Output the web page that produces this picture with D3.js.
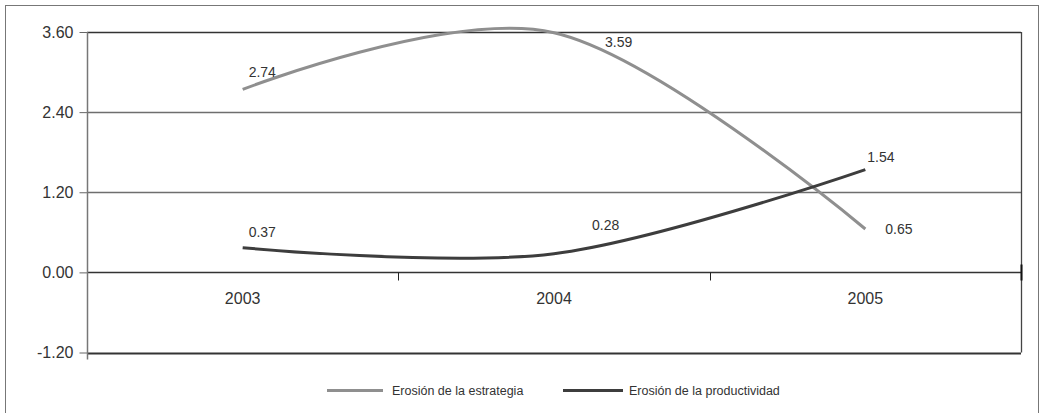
<!DOCTYPE html>
<html>
<head>
<meta charset="utf-8">
<script src="https://cdn.jsdelivr.net/npm/d3@7"></script>
<style>
  body { margin: 0; background: #fff; }
  svg { display: block; font-family: "Liberation Sans", Arial, sans-serif; }
</style>
</head>
<body>
<div id="root"></div>
<script>
const years = ["2003", "2004", "2005"];
const estrategia = [2.74, 3.59, 0.65];
const productividad = [0.37, 0.28, 1.54];
const yTicks = [3.6, 2.4, 1.2, 0, -1.2];
const seriesNames = ["Erosión de la estrategia", "Erosión de la productividad"];

const width = 1040;
const height = 413;
const margin = { top: 32, right: 19, bottom: 61, left: 87 };

const svg = d3
  .select("#root")
  .append("svg")
  .attr("width", width)
  .attr("height", height);

// outer frame (bottom edge falls outside the picture)
svg
  .append("rect")
  .attr("x", 5.5)
  .attr("y", 5.5)
  .attr("width", 1033)
  .attr("height", 430)
  .attr("fill", "none")
  .attr("stroke", "#777");

const x = d3
  .scaleBand()
  .domain(years)
  .range([margin.left, width - margin.right]);

const y = d3
  .scaleLinear()
  .domain([-1.2, 3.6])
  .range([height - margin.bottom + 0.5, margin.top]);

// gridlines
svg
  .append("g")
  .selectAll("line")
  .data(yTicks)
  .join("line")
  .attr("x1", margin.left)
  .attr("x2", width - margin.right)
  .attr("y1", (d) => Math.round(y(d)) + 0.5)
  .attr("y2", (d) => Math.round(y(d)) + 0.5)
  .attr("stroke", (d) => (d === 2.4 || d === 1.2 ? "#6e6e6e" : "#333"))
  .attr("stroke-width", (d) => (d === -1.2 ? 2 : 1.3));

// right edge of plot
svg
  .append("line")
  .attr("x1", width - margin.right + 0.5)
  .attr("x2", width - margin.right + 0.5)
  .attr("y1", y(3.6))
  .attr("y2", y(-1.2))
  .attr("stroke", "#444")
  .attr("stroke-width", 1.3);

// y axis
const yAxis = svg
  .append("g")
  .attr("transform", `translate(${margin.left + 0.5},0)`)
  .call(
    d3
      .axisLeft(y)
      .tickValues(yTicks)
      .tickFormat(d3.format(".2f"))
      .tickSize(8)
      .tickSizeOuter(0)
      .tickPadding(6)
  );
yAxis.select(".domain").remove();
yAxis.selectAll(".tick line").attr("stroke", "#666");
yAxis
  .selectAll(".tick text")
  .attr("fill", "#333")
  .style("font-size", "16px")
  .text((d) => d3.format(".2f")(d).replace("−", "-"));
yAxis
  .append("line")
  .attr("y1", y(3.6))
  .attr("y2", y(-1.2) + 7)
  .attr("stroke", "#777")
  .attr("stroke-width", 1.5);

// category axis on zero line
const y0 = Math.round(y(0)) + 0.5;
const xAxis = svg
  .append("g")
  .attr("transform", `translate(0,${y0})`)
  .call(d3.axisBottom(x).tickSize(0).tickPadding(20));
xAxis.select(".domain").remove();
xAxis
  .selectAll(".tick text")
  .attr("fill", "#333")
  .style("font-size", "16px");

// ticks between categories
const bounds = years.slice(1).map((d) => x(d));
xAxis
  .append("g")
  .selectAll("line")
  .data(bounds)
  .join("line")
  .attr("x1", (d) => Math.round(d) + 0.5)
  .attr("x2", (d) => Math.round(d) + 0.5)
  .attr("y1", 0)
  .attr("y2", 8)
  .attr("stroke", "#222");
xAxis
  .append("line")
  .attr("x1", width - margin.right + 0.5)
  .attr("x2", width - margin.right + 0.5)
  .attr("y1", -8)
  .attr("y2", 8)
  .attr("stroke", "#111")
  .attr("stroke-width", 2);

// lines
const series = [
  { name: seriesNames[0], values: estrategia, color: "#8f8f8f" },
  { name: seriesNames[1], values: productividad, color: "#3d3d3d" },
];

const line = d3
  .line()
  .x((d, i) => x(years[i]) + x.bandwidth() / 2)
  .y((d) => y(d))
  .curve(d3.curveCardinal.tension(0));

svg
  .append("g")
  .selectAll("path")
  .data(series)
  .join("path")
  .attr("d", (d) => line(d.values))
  .attr("fill", "none")
  .attr("stroke", (d) => d.color)
  .attr("stroke-width", 3)
  .attr("stroke-linecap", "butt");

// value labels, nudged like the original
const labelShift = [
  [[6, -17], [51, 9], [20, 0]],
  [[6, -16], [38, -29], [2, -12]],
];

series.forEach((s, si) => {
  svg
    .append("g")
    .selectAll("text")
    .data(s.values)
    .join("text")
    .attr("x", (d, i) => x(years[i]) + x.bandwidth() / 2 + labelShift[si][i][0])
    .attr("y", (d, i) => y(d) + labelShift[si][i][1])
    .attr("dy", "0.35em")
    .attr("fill", "#333")
    .style("font-size", "14px")
    .text((d) => d3.format(".2f")(d));
});

// legend
const legendX = [327, 563];
const legendY = 390.5;
const legend = svg
  .append("g")
  .selectAll("g")
  .data(series)
  .join("g")
  .attr("transform", (d, i) => `translate(${legendX[i]},${legendY})`);

legend
  .append("line")
  .attr("x1", 0)
  .attr("x2", (d, i) => (i === 0 ? 56 : 60))
  .attr("stroke", (d) => d.color)
  .attr("stroke-width", 3);

legend
  .append("text")
  .attr("x", (d, i) => (i === 0 ? 65 : 66))
  .attr("dy", "0.35em")
  .attr("fill", "#333")
  .style("font-size", "12.5px")
  .text((d) => d.name);
</script>
</body>
</html>
